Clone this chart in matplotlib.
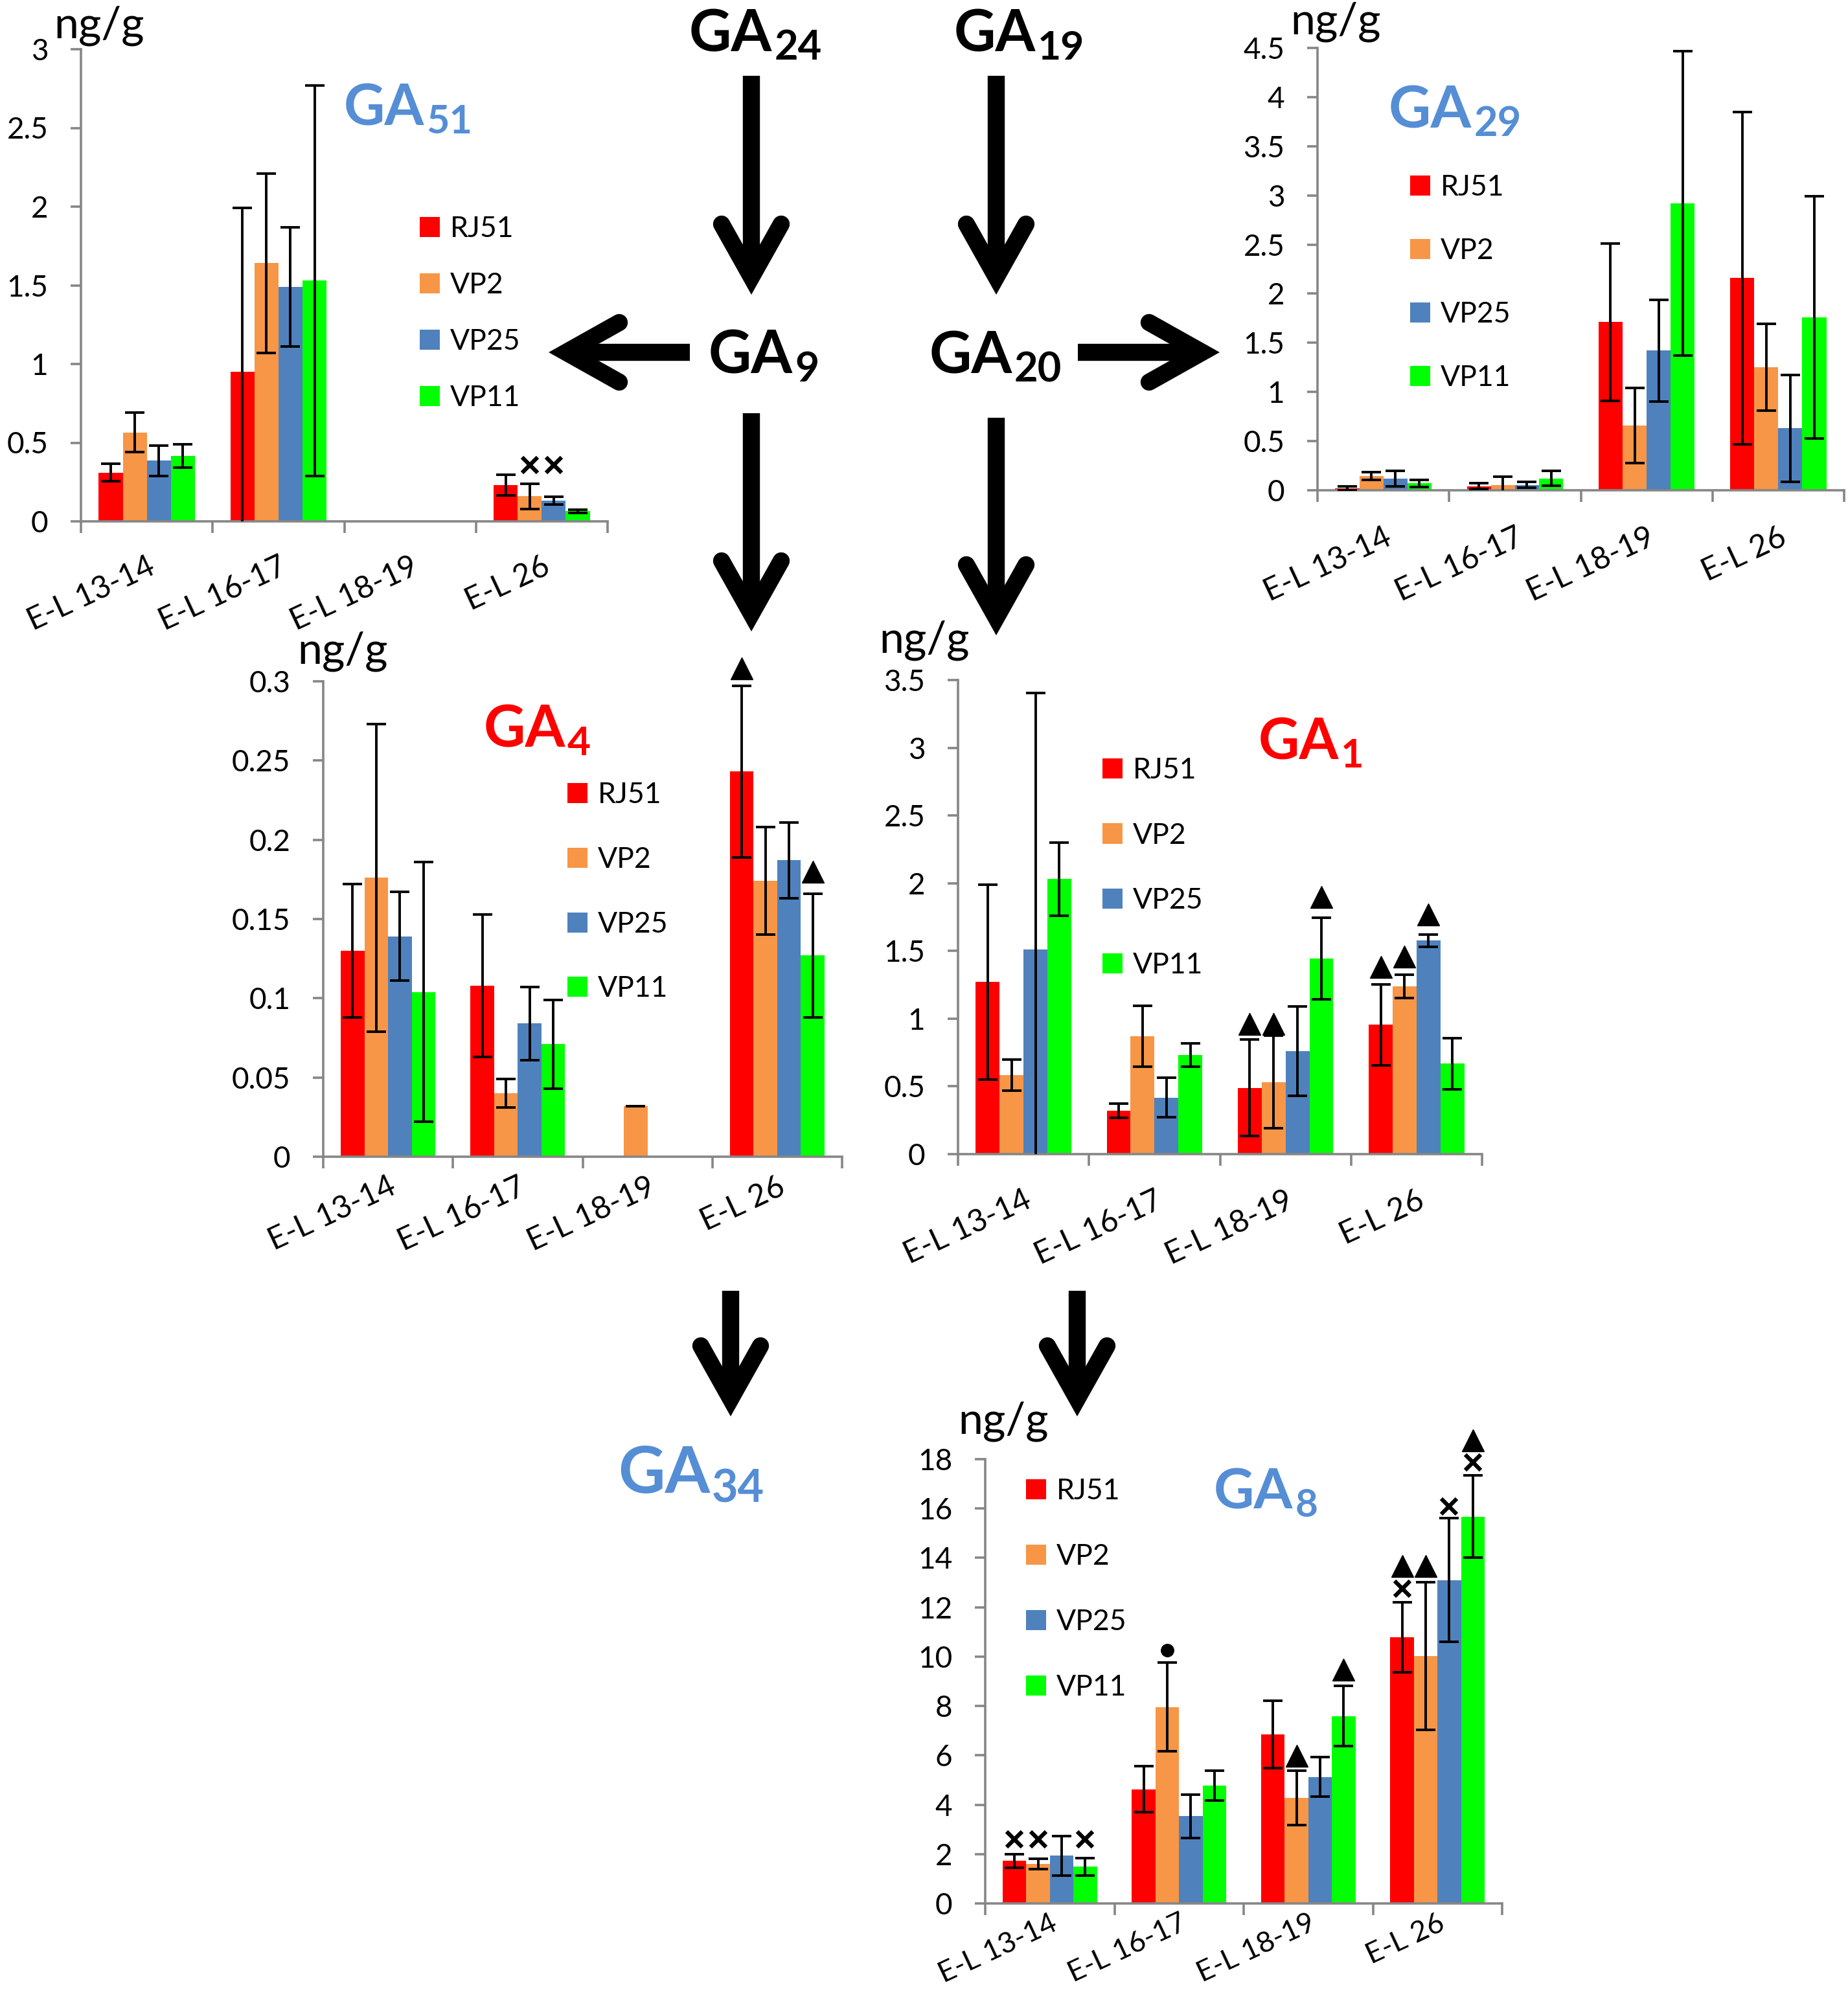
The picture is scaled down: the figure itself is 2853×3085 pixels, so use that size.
import numpy as np
import matplotlib.pyplot as plt
from matplotlib.lines import Line2D

plt.rcParams['font.family'] = ['Lato', 'DejaVu Sans']

W, H = 2853, 3085
nan = np.nan

categories = ['E-L 13-14', 'E-L 16-17', 'E-L 18-19', 'E-L 26']
series = ['RJ51', 'VP2', 'VP25', 'VP11']
colors = ['#FF0000', '#F79646', '#4F81BD', '#00FF00']

# means / error per series (rows) and stage (columns), ng/g
ga51_mean = [[0.31, 0.95, nan, 0.23],
             [0.565, 1.64, nan, 0.16],
             [0.385, 1.49, nan, 0.13],
             [0.415, 1.53, nan, 0.065]]
ga51_err = [[0.055, 1.04, nan, 0.065],
            [0.125, 0.57, nan, 0.08],
            [0.095, 0.38, nan, 0.025],
            [0.075, 1.24, nan, 0.01]]
ga51_marks = [(3, 1, 'x', 0.36), (3, 2, 'x', 0.36)]

ga29_mean = [[0.02, 0.04, 1.71, 2.16],
             [0.145, 0.055, 0.66, 1.25],
             [0.12, 0.055, 1.42, 0.63],
             [0.07, 0.12, 2.92, 1.76]]
ga29_err = [[0.02, 0.03, 0.80, 1.69],
            [0.04, 0.085, 0.38, 0.44],
            [0.08, 0.03, 0.52, 0.545],
            [0.035, 0.075, 1.55, 1.23]]
ga29_marks = []

ga4_mean = [[0.130, 0.108, nan, 0.243],
            [0.176, 0.040, 0.032, 0.174],
            [0.139, 0.084, nan, 0.187],
            [0.104, 0.071, nan, 0.127]]
ga4_err = [[0.042, 0.045, nan, 0.054],
           [0.097, 0.009, 0.0, 0.034],
           [0.028, 0.023, nan, 0.024],
           [0.082, 0.028, nan, 0.039]]
ga4_marks = [(3, 0, '^', 0.308), (3, 3, '^', 0.180)]

ga1_mean = [[1.27, 0.32, 0.49, 0.955],
            [0.585, 0.872, 0.533, 1.238],
            [1.51, 0.418, 0.762, 1.576],
            [2.03, 0.732, 1.445, 0.668]]
ga1_err = [[0.72, 0.052, 0.354, 0.30],
           [0.115, 0.225, 0.343, 0.085],
           [1.895, 0.147, 0.33, 0.045],
           [0.27, 0.088, 0.30, 0.19]]
ga1_marks = [(2, 0, '^', 0.96), (2, 1, '^', 0.96), (2, 3, '^', 1.90),
             (3, 0, '^', 1.38), (3, 1, '^', 1.457), (3, 2, '^', 1.77)]

ga8_mean = [[1.72, 4.63, 6.84, 10.79],
            [1.6, 7.96, 4.28, 10.02],
            [1.94, 3.53, 5.12, 13.1],
            [1.49, 4.78, 7.59, 15.67]]
ga8_err = [[0.27, 0.94, 1.36, 1.42],
           [0.2, 1.8, 1.1, 3.0],
           [0.8, 0.88, 0.8, 2.5],
           [0.35, 0.61, 1.22, 1.67]]
ga8_marks = [(0, 0, 'x', 2.6), (0, 1, 'x', 2.6), (0, 3, 'x', 2.6),
             (1, 1, 'o', 10.25), (2, 1, '^', 5.98), (2, 3, '^', 9.47),
             (3, 0, 'x', 12.76), (3, 0, '^', 13.67), (3, 1, '^', 13.67),
             (3, 2, 'x', 16.08), (3, 3, 'x', 17.87), (3, 3, '^', 18.77)]

GRAY = '#868686'
BLUE_T = '#558ED5'
RED_T = '#FF0000'

fig = plt.figure(figsize=(W / 100, H / 100), dpi=100)

# background axes in pixel coordinates for arrows and labels
bg = fig.add_axes([0, 0, 1, 1])
bg.set_xlim(0, W)
bg.set_ylim(H, 0)
bg.axis('off')


def px_axes(left, top, right, bottom):
    return fig.add_axes([left / W, 1 - bottom / H, (right - left) / W, (bottom - top) / H])


def draw_chart(box, means, errs, ymax, ystep, marks, leg_xy, leg_sp, xpad, xfs=34.5):
    ax = px_axes(*box)
    ax.patch.set_alpha(0)
    x = np.arange(len(categories)) + 0.5
    w = 0.73 / len(series)
    handles = []
    for i, name in enumerate(series):
        xi = x + (i - 1.5) * w
        b = ax.bar(xi, means[i], w, color=colors[i], zorder=2)
        ax.errorbar(xi, means[i], yerr=errs[i], fmt='none', ecolor='black',
                    elinewidth=2.8, capsize=10.5, capthick=2.8, zorder=3)
        handles.append(b)
    for ci, si, sym, yv in marks:
        xm = x[ci] + (si - 1.5) * w
        if sym == '^':
            ax.plot(xm, yv, marker='^', ms=24, color='black', clip_on=False, zorder=4)
        elif sym == 'x':
            ax.plot(xm, yv, marker='x', ms=17, mew=4.5, color='black', clip_on=False, zorder=4)
        else:
            ax.plot(xm, yv, marker='o', ms=14, color='black', clip_on=False, zorder=4)

    ax.set_xlim(0, len(categories))
    ax.set_ylim(0, ymax)
    for s in ['top', 'right']:
        ax.spines[s].set_visible(False)
    for s in ['left', 'bottom']:
        ax.spines[s].set_color(GRAY)
        ax.spines[s].set_linewidth(2.6)
    yt = np.arange(0, ymax + ystep / 2, ystep)
    ax.set_yticks(yt)
    ax.set_yticklabels(['{:g}'.format(round(v, 4)) for v in yt])
    ax.tick_params(axis='y', length=11.5, width=2.6, color=GRAY, labelsize=33, pad=25)
    ax.set_xticks(x)
    ax.set_xticklabels(categories, rotation=25, ha='right', va='top',
                       rotation_mode='anchor', fontsize=xfs)
    ax.tick_params(axis='x', which='major', length=0, pad=xpad)
    ax.set_xticks(np.arange(len(categories) + 1), minor=True)
    ax.tick_params(axis='x', which='minor', length=13, width=2.6, color=GRAY)

    fs = 32
    top = leg_xy[1] + 8 - 0.62 * fs * 100 / 72
    ax.legend(handles, series, loc='upper left', bbox_to_anchor=(leg_xy[0] / W, 1 - top / H),
              bbox_transform=fig.transFigure, frameon=False, fontsize=fs,
              handlelength=0.7, handleheight=0.7, handletextpad=0.35,
              labelspacing=leg_sp, borderpad=0, borderaxespad=0)
    return ax


draw_chart((125, 76, 938, 805), ga51_mean, ga51_err, 3, 0.5, ga51_marks, (648, 353), 1.03, 34)
draw_chart((2034, 74, 2847, 757), ga29_mean, ga29_err, 4.5, 0.5, ga29_marks, (2177, 289), 1.28, 36)
draw_chart((499, 1052, 1300, 1786), ga4_mean, ga4_err, 0.3, 0.05, ga4_marks, (876, 1227), 1.32, 17)
draw_chart((1479, 1050, 2288, 1782), ga1_mean, ga1_err, 3.5, 0.5, ga1_marks, (1702, 1189), 1.33, 35)
draw_chart((1521, 2253, 2319, 2939), ga8_mean, ga8_err, 18, 2, ga8_marks, (1584, 2302), 1.35, 7, 32)

# unit labels
for ux, uy in [(83, 58), (1992, 52), (459, 1024), (1357, 1007), (1479, 2213)]:
    bg.text(ux, uy, 'ng/g', fontsize=49, ha='left', va='baseline')

renderer = fig.canvas.get_renderer()


def ga_label(x, y, sub, size, color):
    t = bg.text(x, y, 'GA', fontsize=size, fontweight='bold', color=color,
                ha='left', va='baseline')
    ext = t.get_window_extent(renderer)
    bg.text(ext.x1 + 3, y + size * 0.2, sub, fontsize=size * 0.7, fontweight='bold',
            color=color, ha='left', va='baseline')


ga_label(531, 193, '51', 63, BLUE_T)
ga_label(2144, 197, '29', 65, BLUE_T)
ga_label(747, 1153, '4', 64, RED_T)
ga_label(1943, 1172, '1', 63, RED_T)
ga_label(1874, 2330, '8', 62, BLUE_T)
ga_label(954, 2305, '34', 72, BLUE_T)
ga_label(1064, 79, '24', 65, 'black')
ga_label(1473, 79, '19', 64, 'black')
ga_label(1094, 576, '9', 66, 'black')
ga_label(1435, 576, '20', 65, 'black')


def arrow(x0, y0, x1, y1):
    d = np.array([x1 - x0, y1 - y0], float)
    d /= np.hypot(*d)
    n = np.array([-d[1], d[0]])
    tip = np.array([x1, y1], float)
    v = tip - d * 28
    end = tip - d * 40
    bg.add_line(Line2D([x0, end[0]], [y0, end[1]], lw=19, color='black',
                       solid_capstyle='butt'))
    a1 = v - d * 82 + n * 46
    a2 = v - d * 82 - n * 46
    bg.add_line(Line2D([a1[0], v[0], a2[0]], [a1[1], v[1], a2[1]], lw=19, color='black',
                       solid_capstyle='round', solid_joinstyle='miter'))


arrow(1160, 117, 1160, 456)
arrow(1538, 117, 1538, 456)
arrow(1065, 544, 846, 544)
arrow(1664, 544, 1884, 544)
arrow(1160, 638, 1160, 976)
arrow(1538, 645, 1538, 982)
arrow(1128, 1993, 1128, 2188)
arrow(1663, 1993, 1663, 2188)

fig.savefig('out.png', dpi=100)
